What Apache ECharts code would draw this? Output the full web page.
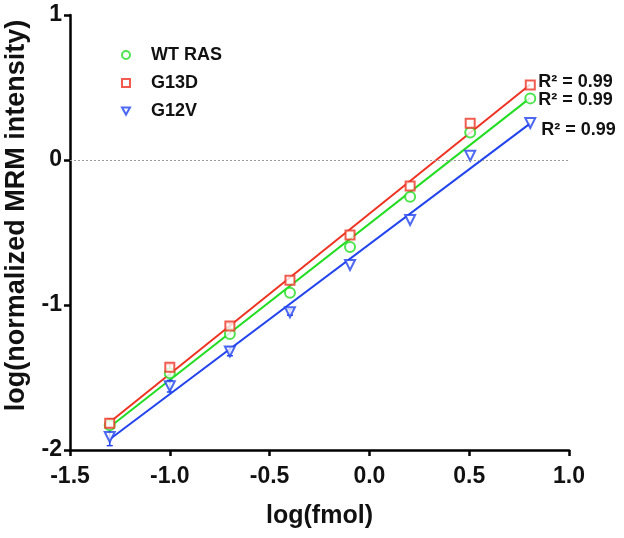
<!DOCTYPE html>
<html>
<head>
<meta charset="utf-8">
<script src="https://cdn.jsdelivr.net/npm/echarts@6/dist/echarts.min.js"></script>
<style>html,body{margin:0;padding:0;background:#fff}#c{width:624px;height:538px}</style>
</head>
<body>
<div id="c"></div>
<script>
// log(fmol) positions
const xVals = [-1.301, -1.0, -0.699, -0.398, -0.097, 0.204, 0.505, 0.806];
// log(normalized MRM intensity)
const wtRas = [-1.83, -1.47, -1.20, -0.915, -0.60, -0.253, 0.19, 0.425];
const g13d  = [-1.816, -1.43, -1.145, -0.83, -0.517, -0.18, 0.253, 0.517];
const g12v  = [-1.91, -1.56, -1.32, -1.05, -0.724, -0.414, 0.03, 0.255];
// error bar half-widths
const wtErr   = [0.02, 0.02, 0, 0, 0, 0, 0, 0];
const g13dErr = [0.03, 0.02, 0.02, 0, 0, 0, 0, 0];
const g12vErr = [0.06, 0.04, 0.03, 0.02, 0, 0, 0, 0];
const seriesNames = ['WT RAS', 'G13D', 'G12V'];
const r2Labels = ['R\u00B2 = 0.99', 'R\u00B2 = 0.99', 'R\u00B2 = 0.99'];
const xTicks = [-1.5, -1.0, -0.5, 0.0, 0.5, 1.0];
const yTicks = [-2, -1, 0, 1];

const colors = ['#22dd22', '#ee3322', '#2244ee'];
const symbols = ['emptyCircle', 'emptyRect', 'emptyTriangle'];
const rotations = [0, 0, 180];
const sizes = [10, 9, 10];
const labelOffsets = [[2, 2], [2, -2], [5, 7]];
const allY = [wtRas, g13d, g12v];
const allErr = [wtErr, g13dErr, g12vErr];

function fit(xs, ys) {
  const n = xs.length;
  let sx = 0, sy = 0, sxx = 0, sxy = 0;
  for (let i = 0; i < n; i++) { sx += xs[i]; sy += ys[i]; sxx += xs[i]*xs[i]; sxy += xs[i]*ys[i]; }
  const m = (n*sxy - sx*sy) / (n*sxx - sx*sx);
  const b = (sy - m*sx) / n;
  return [m, b];
}

const chart = echarts.init(document.getElementById('c'), null, {renderer: 'canvas'});
const series = [];
const FONT = 'Liberation Sans';

allY.forEach((ys, k) => {
  const [m, b] = fit(xVals, ys);
  const x0 = xVals[0], x1 = xVals[xVals.length - 1];
  series.push({
    name: seriesNames[k] + ' fit',
    type: 'line',
    data: [[x0, m*x0 + b], [x1, m*x1 + b]],
    showSymbol: false, symbol: 'none', silent: true,
    lineStyle: {color: colors[k], width: 2},
    endLabel: {
      show: true, distance: 6, offset: labelOffsets[k],
      formatter: r2Labels[k], color: '#111', fontFamily: FONT, fontWeight: 'bold', fontSize: 18
    },
    z: 2
  });
  series.push({
    name: seriesNames[k] + ' err',
    type: 'custom',
    silent: true,
    data: xVals.map((x, i) => [x, ys[i], allErr[k][i]]),
    renderItem: function (params, api) {
      const e = api.value(2);
      if (!e) return null;
      const top = api.coord([api.value(0), api.value(1) + e]);
      const bot = api.coord([api.value(0), api.value(1) - e]);
      const hw = 3;
      return {type: 'group', children: [
        {type: 'line', shape: {x1: top[0], y1: top[1], x2: bot[0], y2: bot[1]}, style: {stroke: colors[k], lineWidth: 1.5}},
        {type: 'line', shape: {x1: top[0]-hw, y1: top[1], x2: top[0]+hw, y2: top[1]}, style: {stroke: colors[k], lineWidth: 1.5}},
        {type: 'line', shape: {x1: bot[0]-hw, y1: bot[1], x2: bot[0]+hw, y2: bot[1]}, style: {stroke: colors[k], lineWidth: 1.5}}
      ]};
    },
    z: 3
  });
});

allY.forEach((ys, k) => {
  series.push({
    name: seriesNames[k],
    type: 'scatter',
    data: xVals.map((x, i) => [x, ys[i]]),
    symbol: symbols[k],
    symbolSize: sizes[k],
    symbolRotate: rotations[k],
    itemStyle: {color: colors[k], borderWidth: 1.8},
    z: 4
  });
});

// zero reference line
series.push({
  name: 'zero',
  type: 'line',
  data: [],
  markLine: {
    silent: true, symbol: 'none', label: {show: false},
    lineStyle: {color: '#999', type: [2, 2], width: 1},
    data: [{yAxis: 0}]
  }
});

chart.setOption({
  animation: false,
  backgroundColor: '#fff',
  grid: {left: 70, right: 55, top: 15, bottom: 88, containLabel: false, outerBoundsMode: 'none'},
  legend: {
    data: [
      {name: seriesNames[0], icon: 'circle', itemStyle: {color: '#fff', borderColor: colors[0], borderWidth: 2}},
      {name: seriesNames[1], icon: 'rect', itemStyle: {color: '#fff', borderColor: colors[1], borderWidth: 2}},
      {name: seriesNames[2], icon: 'path://M0,0L10,0L5,9Z', itemStyle: {color: '#fff', borderColor: colors[2], borderWidth: 2}}
    ],
    orient: 'vertical',
    left: 116, top: 41,
    itemWidth: 8, itemHeight: 8, itemGap: 10,
    textStyle: {fontFamily: FONT, fontWeight: 'bold', fontSize: 18, color: '#111', padding: [0, 0, 0, 16]},
    selectedMode: false
  },
  xAxis: {
    type: 'value', min: -1.5, max: 1.0, interval: 0.5,
    name: 'log(fmol)', nameLocation: 'middle', nameGap: 54,
    nameTextStyle: {fontFamily: FONT, fontWeight: 'bold', fontSize: 25, color: '#111'},
    axisLine: {onZero: false, lineStyle: {color: '#000', width: 2.5}},
    axisTick: {show: true, length: 6, lineStyle: {color: '#000', width: 2.5}},
    axisLabel: {fontFamily: FONT, fontWeight: 'bold', fontSize: 23, color: '#111', margin: 15,
      formatter: v => v.toFixed(1)},
    splitLine: {show: false}
  },
  yAxis: {
    type: 'value', min: -2, max: 1, interval: 1,
    name: 'log(normalized MRM intensity)', nameLocation: 'middle', nameGap: 40,
    nameTextStyle: {fontFamily: FONT, fontWeight: 'bold', fontSize: 27, color: '#111', padding: [0, 0, 0, 34]},
    axisLine: {onZero: false, lineStyle: {color: '#000', width: 2.5}},
    axisTick: {show: true, length: 6, lineStyle: {color: '#000', width: 2.5}},
    axisLabel: {fontFamily: FONT, fontWeight: 'bold', fontSize: 23, color: '#111', margin: 8,
      formatter: v => String(v)},
    splitLine: {show: false}
  },
  series: series
});
</script>
</body>
</html>
